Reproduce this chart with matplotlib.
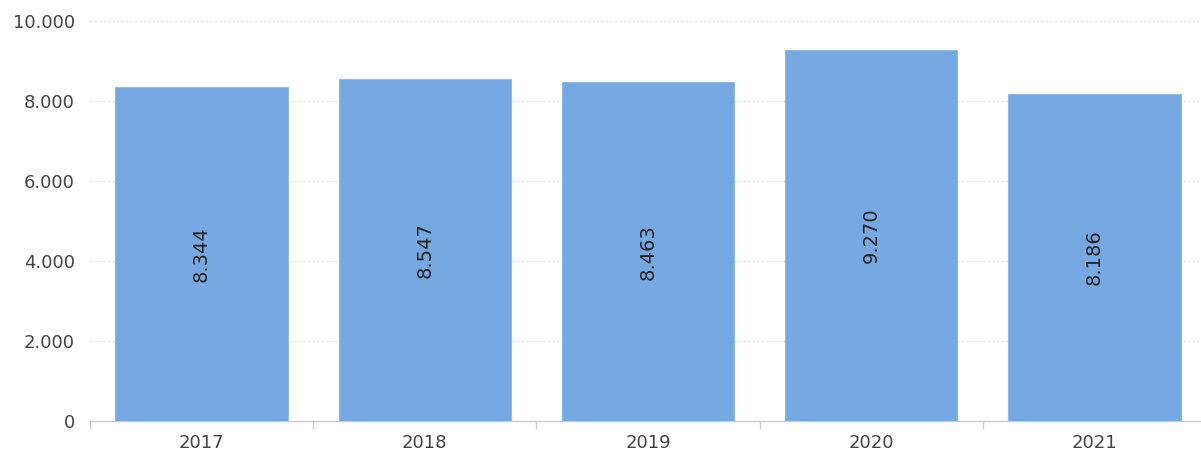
import matplotlib
matplotlib.use("Agg")
import matplotlib.pyplot as plt
from matplotlib.ticker import FuncFormatter

years = ["2017", "2018", "2019", "2020", "2021"]
values = [8344, 8547, 8463, 9270, 8186]
labels = ["8.344", "8.547", "8.463", "9.270", "8.186"]

fig = plt.figure(figsize=(12.01, 4.53), dpi=100)
ax = fig.add_axes([90/1201, 32/453, 1116/1201, 400/453])

x = list(range(len(years)))
bars = ax.bar(x, values, width=0.772, color="#76A9E1", edgecolor="#8FBBEA", linewidth=0.8, zorder=2)
for xi, v, lab in zip(x, values, labels):
    ax.text(xi, v/2, lab, rotation=90, ha="center", va="center", fontsize=14, color="#222222", zorder=3)

ax.set_xlim(-0.5, len(years) - 0.5)
ax.set_ylim(0, 10000)
ax.set_yticks([0, 2000, 4000, 6000, 8000, 10000])
ax.yaxis.set_major_formatter(FuncFormatter(lambda v, p: f"{int(v):,}".replace(",", ".")))
ax.set_xticks(x)
ax.set_xticklabels(years)
ax.set_xticks([i - 0.5 for i in range(len(years))], minor=True)

ax.grid(axis="y", color="#DDDDDD", linestyle=(0, (2, 2)), linewidth=0.8, zorder=0)
for s in ["top", "right", "left", "bottom"]:
    ax.spines[s].set_visible(False)
ax.axhline(0, xmin=0, xmax=(1200-90)/1116, color="#CCCCCC", linewidth=1, zorder=1, clip_on=False)

ax.tick_params(axis="y", length=0, labelsize=13, labelcolor="#444444", pad=11)
ax.tick_params(axis="x", which="major", length=0, labelsize=13, labelcolor="#444444", pad=9)
ax.tick_params(axis="x", which="minor", length=6, color="#CCCCCC", width=1)

fig.savefig("out.png", dpi=100)
